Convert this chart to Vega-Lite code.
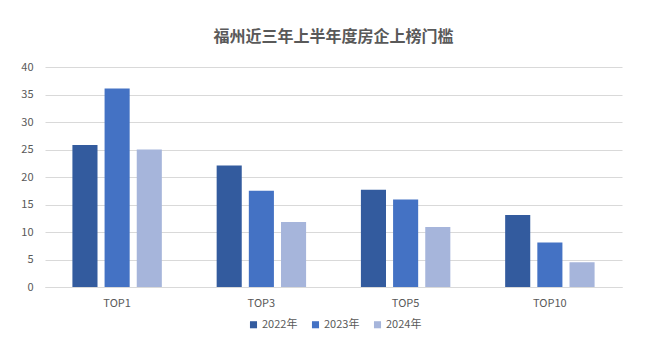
{
  "$schema": "https://vega.github.io/schema/vega-lite/v6.json",
  "autosize": "none",
  "width": 577,
  "height": 220,
  "padding": {"left": 45, "top": 67, "right": 38, "bottom": 70},
  "background": "white",
  "title": {
    "text": "福州近三年上半年度房企上榜门槛",
    "font": "Noto Sans CJK SC",
    "fontSize": 16,
    "fontWeight": "bold",
    "color": "#595959",
    "anchor": "middle",
    "offset": 16
  },
  "data": {
    "values": [
      {"rank": "TOP1", "year": "2022年", "value": 25.8},
      {"rank": "TOP1", "year": "2023年", "value": 36.1},
      {"rank": "TOP1", "year": "2024年", "value": 25.0},
      {"rank": "TOP3", "year": "2022年", "value": 22.1},
      {"rank": "TOP3", "year": "2023年", "value": 17.5},
      {"rank": "TOP3", "year": "2024年", "value": 11.8},
      {"rank": "TOP5", "year": "2022年", "value": 17.7},
      {"rank": "TOP5", "year": "2023年", "value": 15.9},
      {"rank": "TOP5", "year": "2024年", "value": 10.9},
      {"rank": "TOP10", "year": "2022年", "value": 13.1},
      {"rank": "TOP10", "year": "2023年", "value": 8.1},
      {"rank": "TOP10", "year": "2024年", "value": 4.5}
    ]
  },
  "mark": {"type": "bar"},
  "encoding": {
    "x": {
      "field": "rank",
      "type": "nominal",
      "sort": ["TOP1", "TOP3", "TOP5", "TOP10"],
      "scale": {"paddingInner": 0.38, "paddingOuter": 0.19},
      "axis": {
        "title": null,
        "labelAngle": 0,
        "ticks": false,
        "domainColor": "#d9d9d9",
        "labelColor": "#595959",
        "labelFont": "Noto Sans CJK SC",
        "labelFontSize": 11,
        "labelPadding": 10
      }
    },
    "xOffset": {
      "field": "year",
      "type": "nominal",
      "scale": {"paddingInner": 0.22, "paddingOuter": 0}
    },
    "y": {
      "field": "value",
      "type": "quantitative",
      "scale": {"domain": [0, 40]},
      "axis": {
        "title": null,
        "values": [0, 5, 10, 15, 20, 25, 30, 35, 40],
        "domain": false,
        "ticks": false,
        "gridColor": "#d9d9d9",
        "labelColor": "#595959",
        "labelFont": "Noto Sans CJK SC",
        "labelFontSize": 11,
        "labelPadding": 12
      }
    },
    "color": {
      "field": "year",
      "type": "nominal",
      "scale": {"domain": ["2022年", "2023年", "2024年"], "range": ["#335b9e", "#4472c4", "#a6b5db"]},
      "legend": {
        "title": null,
        "orient": "none",
        "legendX": 203,
        "legendY": 252,
        "direction": "horizontal",
        "symbolType": "square",
        "symbolSize": 50,
        "labelColor": "#595959",
        "labelFont": "Noto Sans CJK SC",
        "labelFontSize": 11,
        "labelOffset": 3,
        "columnPadding": 12
      }
    }
  },
  "config": {"view": {"stroke": null}}
}
